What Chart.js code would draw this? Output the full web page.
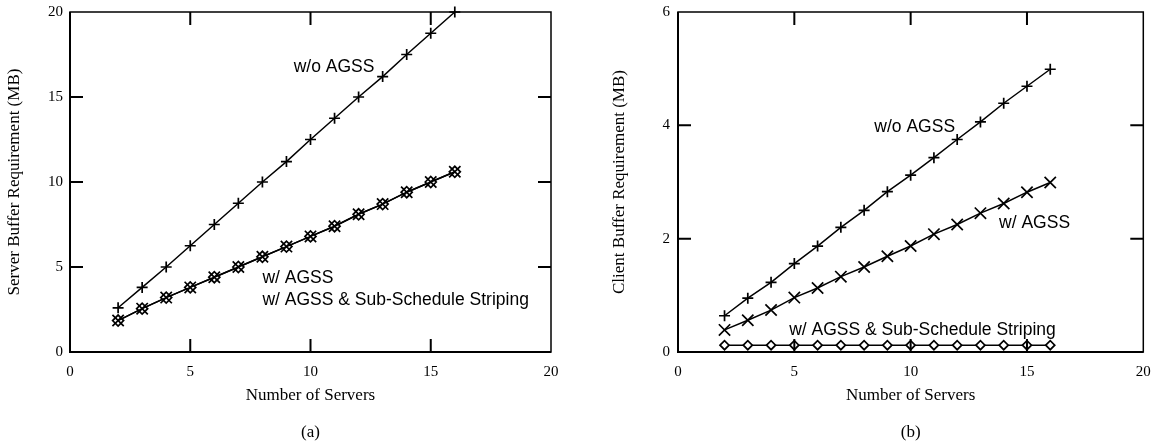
<!DOCTYPE html>
<html>
<head>
<meta charset="utf-8">
<script src="https://cdn.jsdelivr.net/npm/chart.js@4/dist/chart.umd.min.js"></script>
<style>
html, body { margin: 0; padding: 0; background: #fff; }
#wrap { position: relative; width: 1153px; height: 448px; }
.box { position: absolute; top: 0; height: 448px; }
</style>
</head>
<body>
<div id="wrap">
  <div class="box" style="left:0;width:576px"><canvas id="chartA" width="576" height="448"></canvas></div>
  <div class="box" style="left:576px;width:577px"><canvas id="chartB" width="577" height="448"></canvas></div>
</div>
<script>
// number of servers (x axis, both panels)
var servers = [2, 3, 4, 5, 6, 7, 8, 9, 10, 11, 12, 13, 14, 15, 16];
var xTicks = [0, 5, 10, 15, 20];

// (a) server buffer requirement, MB
var serverWithoutAgss = [2.6, 3.8, 5.0, 6.25, 7.5, 8.75, 10.0, 11.2, 12.5, 13.75, 15.0, 16.2, 17.5, 18.75, 20.0];
var serverWithAgss = [1.85, 2.55, 3.2, 3.8, 4.4, 5.0, 5.6, 6.2, 6.8, 7.4, 8.1, 8.7, 9.4, 10.0, 10.6];
var serverWithStriping = [1.85, 2.55, 3.2, 3.8, 4.4, 5.0, 5.6, 6.2, 6.8, 7.4, 8.1, 8.7, 9.4, 10.0, 10.6];
var serverTicks = [0, 5, 10, 15, 20];

// (b) client buffer requirement, MB
var clientWithoutAgss = [0.64, 0.95, 1.23, 1.56, 1.87, 2.2, 2.5, 2.83, 3.12, 3.43, 3.75, 4.06, 4.39, 4.69, 4.99];
var clientWithAgss = [0.39, 0.56, 0.74, 0.96, 1.13, 1.33, 1.5, 1.69, 1.87, 2.08, 2.25, 2.45, 2.62, 2.82, 2.99];
var clientWithStriping = [0.12, 0.12, 0.12, 0.12, 0.12, 0.12, 0.12, 0.12, 0.12, 0.12, 0.12, 0.12, 0.12, 0.12, 0.12];
var clientTicks = [0, 2, 4, 6];

var SERIF = '"Liberation Serif", "Times New Roman", serif';
var SANS = '"Liberation Sans", Arial, sans-serif';

var toPoints = function (ys) {
    return servers.map(function (x, i) { return { x: x, y: ys[i] }; });
};

// box around the plot, inward tick marks on all four sides, curve labels
var frameAndTicks = {
    id: 'frameAndTicks',
    afterDraw: function (chart, args, opts) {
        var ctx = chart.ctx, area = chart.chartArea;
        var xs = chart.scales.x, ys = chart.scales.y;
        var len = 13;
        ctx.save();
        ctx.strokeStyle = '#000';
        ctx.lineWidth = 1.5;
        ctx.strokeRect(area.left, area.top, area.right - area.left, area.bottom - area.top);
        ctx.lineWidth = 2;
        ctx.beginPath();
        ctx.moveTo(area.left, area.top);
        ctx.lineTo(area.left, area.bottom);
        ctx.lineTo(area.right, area.bottom);
        xs.ticks.forEach(function (t) {
            var px = xs.getPixelForValue(t.value);
            if (px <= area.left + 1 || px >= area.right - 1) return;
            ctx.moveTo(px, area.bottom); ctx.lineTo(px, area.bottom - len);
            ctx.moveTo(px, area.top); ctx.lineTo(px, area.top + len);
        });
        ys.ticks.forEach(function (t) {
            var py = ys.getPixelForValue(t.value);
            if (py <= area.top + 1 || py >= area.bottom - 1) return;
            ctx.moveTo(area.left, py); ctx.lineTo(area.left + len, py);
            ctx.moveTo(area.right, py); ctx.lineTo(area.right - len, py);
        });
        ctx.stroke();

        ctx.fillStyle = '#000';
        ctx.font = '17.5px ' + SANS;
        ctx.textAlign = 'left';
        ctx.textBaseline = 'middle';
        (opts.notes || []).forEach(function (n) {
            ctx.fillText(n.text, xs.getPixelForValue(n.x), ys.getPixelForValue(n.y));
        });
        ctx.restore();
    }
};

var makeDataset = function (label, ys, style, radius) {
    return {
        label: label,
        data: toPoints(ys),
        borderColor: '#000',
        borderWidth: 1.5,
        pointStyle: style,
        pointRadius: radius,
        pointBorderColor: '#000',
        pointBackgroundColor: '#fff',
        pointBorderWidth: 1.7,
        tension: 0,
        clip: false
    };
};

var makeChart = function (el, cfg) {
    return new Chart(el, {
        type: 'line',
        data: { datasets: cfg.datasets },
        options: {
            responsive: false,
            animation: false,
            layout: { padding: { top: 12, right: cfg.padRight, left: 0, bottom: 0 } },
            plugins: {
                legend: { display: false },
                tooltip: { enabled: false },
                title: {
                    display: true,
                    position: 'bottom',
                    fullSize: false,
                    text: cfg.caption,
                    color: '#000',
                    font: { family: SERIF, size: 17, weight: 'normal' },
                    padding: { top: 16.4, bottom: 5 }
                },
                frameAndTicks: { notes: cfg.notes }
            },
            scales: {
                x: {
                    type: 'linear',
                    min: 0,
                    max: 20,
                    afterBuildTicks: function (s) { s.ticks = xTicks.map(function (v) { return { value: v }; }); },
                    afterFit: function (s) { s.height = 54.2; s.paddingLeft = 0; s.paddingRight = 0; },
                    ticks: { color: '#000', font: { family: SERIF, size: 15 }, padding: 11, maxRotation: 0 },
                    grid: { display: false, drawTicks: false, tickLength: 0 },
                    border: { display: false },
                    title: {
                        display: true,
                        text: 'Number of Servers',
                        color: '#000',
                        font: { family: SERIF, size: 17 },
                        padding: { top: 0, bottom: 0 }
                    }
                },
                y: {
                    type: 'linear',
                    min: 0,
                    max: cfg.yMax,
                    afterBuildTicks: function (s) { s.ticks = cfg.yTicks.map(function (v) { return { value: v }; }); },
                    afterFit: function (s) { s.width = cfg.yWidth; s.paddingTop = 0; s.paddingBottom = 0; },
                    ticks: { color: '#000', font: { family: SERIF, size: 15 }, padding: cfg.yTickPad },
                    grid: { display: false, drawTicks: false, tickLength: 0 },
                    border: { display: false },
                    title: {
                        display: true,
                        text: cfg.yTitle,
                        color: '#000',
                        font: { family: SERIF, size: 17 },
                        padding: { top: cfg.yTitlePad, bottom: 0 }
                    }
                }
            }
        },
        plugins: [frameAndTicks]
    });
};

makeChart(document.getElementById('chartA'), {
    caption: '(a)',
    yTitle: 'Server Buffer Requirement (MB)',
    yMax: 20,
    yTicks: serverTicks,
    yWidth: 70,
    yTickPad: 7,
    yTitlePad: 4.8,
    padRight: 25,
    datasets: [
        makeDataset('w/o AGSS', serverWithoutAgss, 'cross', 5.5),
        makeDataset('w/ AGSS', serverWithAgss, 'crossRot', 8),
        makeDataset('w/ AGSS & Sub-Schedule Striping', serverWithStriping, 'rectRot', 5.5)
    ],
    notes: [
        { text: 'w/o AGSS', x: 9.3, y: 16.75 },
        { text: 'w/ AGSS', x: 8.0, y: 4.32 },
        { text: 'w/ AGSS & Sub-Schedule Striping', x: 8.0, y: 3.04 }
    ]
});

makeChart(document.getElementById('chartB'), {
    caption: '(b)',
    yTitle: 'Client Buffer Requirement (MB)',
    yMax: 6,
    yTicks: clientTicks,
    yWidth: 102,
    yTickPad: 8,
    yTitlePad: 33.8,
    padRight: 6,
    datasets: [
        makeDataset('w/o AGSS', clientWithoutAgss, 'cross', 5.5),
        makeDataset('w/ AGSS', clientWithAgss, 'crossRot', 8),
        makeDataset('w/ AGSS & Sub-Schedule Striping', clientWithStriping, 'rectRot', 4.5)
    ],
    notes: [
        { text: 'w/o AGSS', x: 8.44, y: 3.97 },
        { text: 'w/ AGSS', x: 13.8, y: 2.28 },
        { text: 'w/ AGSS & Sub-Schedule Striping', x: 4.78, y: 0.39 }
    ]
});
</script>
</body>
</html>
